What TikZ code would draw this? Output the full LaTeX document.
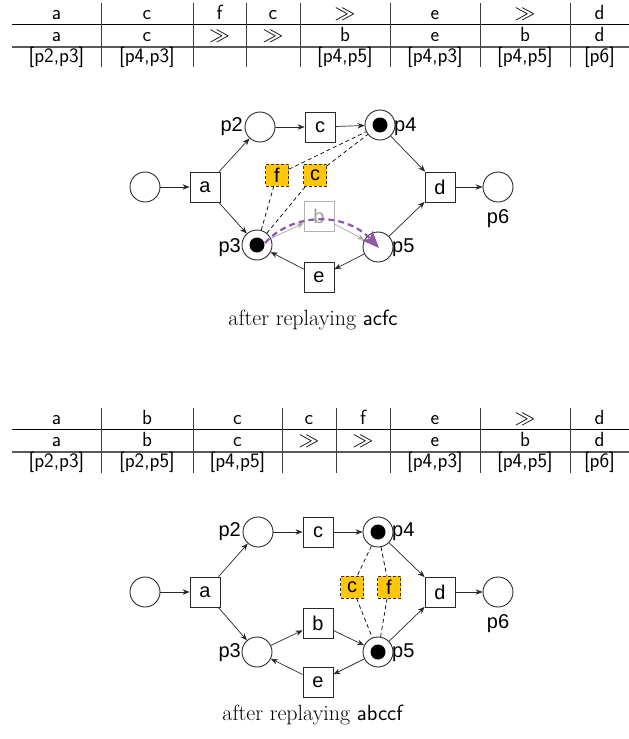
\documentclass[tikz,border=0pt]{standalone}
\usepackage{fontspec}
\newfontfamily\lblfont{Liberation Sans}
\usetikzlibrary{arrows.meta}
\definecolor{skipfill}{RGB}{255,198,10}
\definecolor{replaycol}{RGB}{146,88,168}
\definecolor{arcgray}{RGB}{40,40,40}

\tikzset{
  tabtext/.style={anchor=base, inner sep=0pt, font=\sffamily\fontsize{20.5}{22}\selectfont},
  tabline/.style={line width=0.8pt, draw=black},
  tabline2/.style={line width=1.3pt, draw=gray!70!black},
  colsep/.style={line width=0.8pt, draw=black!75},
  place/.style={circle, draw=arcgray, line width=0.9pt, minimum size=30pt, inner sep=0pt},
  trans/.style={rectangle, draw=arcgray, line width=0.8pt, minimum size=30pt, inner sep=0pt,
    font=\lblfont\fontsize{20}{20}\selectfont},
  ghost/.style={trans, draw=gray!60, text=gray!75},
  skipbox/.style={rectangle, draw=black!80, dashed, dash pattern=on 3pt off 2pt, line width=0.7pt,
    fill=skipfill, minimum width=23pt, minimum height=22pt, inner sep=0pt,
    font=\lblfont\fontsize{20}{20}\selectfont},
  plabel/.style={inner sep=0pt, font=\lblfont\fontsize{20}{20}\selectfont},
  arc/.style={-{Stealth[length=7pt,width=5.5pt]}, line width=0.7pt, draw=arcgray},
  ghostarc/.style={arc, draw=gray!70},
  linkline/.style={line width=0.7pt, dash pattern=on 4pt off 3pt, draw=black},
  replay/.style={line width=2.2pt, draw=replaycol, dash pattern=on 6pt off 4pt,
    -{Stealth[length=17pt,width=14pt,inset=4pt]}},
  caption/.style={inner sep=0pt, font=\fontsize{22}{26}\selectfont},
}

\begin{document}
\begin{tikzpicture}[x=1pt,y=-1pt]
\useasboundingbox (0,0) rectangle (629,739);

% ---------------- upper alignment table ----------------
\draw[tabline] (12,24) -- (629,24);
\draw[tabline2] (12,47) -- (629,47);
\foreach \s in {101,193,246,300,390,480,570}
  \draw[colsep] (\s,3) -- (\s,67);
\foreach \x/\r/\m/\k [count=\i] in {
    56.5/a/a/{[p2,p3]},
    147/c/c/{[p4,p3]},
    219.5/f/{$\gg$}/{},
    273/c/{$\gg$}/{},
    345/{$\gg$}/b/{[p4,p5]},
    435/e/e/{[p4,p3]},
    525/{$\gg$}/b/{[p4,p5]},
    599.5/d/d/{[p6]}}{
  \node[tabtext] (ua\i) at (\x,19.5) {\r};
  \node[tabtext] (ub\i) at (\x,41.5) {\m};
  \node[tabtext] (uc\i) at (\x,62) {\k};
}

% ---------------- upper net ----------------
\node[place] (s1)  at (145,187) {};
\node[trans] (a1)  at (205,187) {a};
\node[place] (p21) at (260,127) {};
\node[trans] (c1)  at (320,127) {c};
\node[place] (p41) at (380,125) {};
\node[trans] (d1)  at (440,187) {d};
\node[place] (p61) at (498,187) {};
\node[place] (p31) at (257,245) {};
\node[place] (p51) at (378,247) {};
\node[trans] (e1)  at (319,277) {e};
\node[ghost] (b1)  at (319,216) {b};
\node[skipbox] (f1s) at (277,175) {f};
\node[skipbox] (c1s) at (315,175) {c};

\fill[black] (p41.center) circle (7.5pt);
\fill[black] (p31.center) circle (7.5pt);

\node[plabel, anchor=east] (lp21) at (243,127) {p2};
\node[plabel, anchor=west] (lp41) at (394,127) {p4};
\node[plabel, anchor=east] (lp31) at (241,248) {p3};
\node[plabel, anchor=west] (lp51) at (392,248) {p5};
\node[plabel] (lp61) at (498,219) {p6};

\draw[arc] (s1) -- (a1);
\draw[arc] (a1) -- (p21);
\draw[arc] (a1) -- (p31);
\draw[arc] (p21) -- (c1);
\draw[arc] (c1) -- (p41);
\draw[arc] (p41) -- (d1);
\draw[arc] (d1) -- (p61);
\draw[arc] (p51) -- (d1);
\draw[arc] (p51) -- (e1);
\draw[arc] (e1) -- (p31);
\draw[ghostarc] (p31) -- (b1);
\draw[ghostarc] (b1) -- (p51);

\draw[linkline] (p31) -- (f1s) -- (p41);
\draw[linkline] (p31) -- (c1s) -- (p41);

\coordinate (rs) at (265,243);
\coordinate (re) at (379,248);
\draw[replay] (rs) .. controls (292,213) and (344,211) .. (re);

\node[caption] (cap1) at (313,320) {after replaying \textsf{acfc}};

% ---------------- lower alignment table ----------------
\draw[tabline] (12,429) -- (629,429);
\draw[tabline2] (12,452) -- (629,452);
\foreach \s in {101,193,282,336,390,480,570}
  \draw[colsep] (\s,408) -- (\s,473);
\foreach \x/\r/\m/\k [count=\i] in {
    56.5/a/a/{[p2,p3]},
    147/b/b/{[p2,p5]},
    237.5/c/c/{[p4,p5]},
    309/c/{$\gg$}/{},
    363/f/{$\gg$}/{},
    435/e/e/{[p4,p3]},
    525/{$\gg$}/b/{[p4,p5]},
    599.5/d/d/{[p6]}}{
  \node[tabtext] (la\i) at (\x,424.5) {\r};
  \node[tabtext] (lb\i) at (\x,446.5) {\m};
  \node[tabtext] (lc\i) at (\x,467) {\k};
}

% ---------------- lower net ----------------
\node[place] (s2)  at (145,592) {};
\node[trans] (a2)  at (205,592) {a};
\node[place] (p22) at (258,532) {};
\node[trans] (c2)  at (318,532) {c};
\node[place] (p42) at (378,532) {};
\node[trans] (d2)  at (440,592) {d};
\node[place] (p62) at (498,592) {};
\node[place] (p32) at (257,652) {};
\node[place] (p52) at (378,652) {};
\node[trans] (b2)  at (318,623) {b};
\node[trans] (e2)  at (318,682) {e};
\node[skipbox] (c2s) at (352,587) {c};
\node[skipbox] (f2s) at (389,587) {f};

\fill[black] (p42.center) circle (7.5pt);
\fill[black] (p52.center) circle (7.5pt);

\node[plabel, anchor=east] (lp22) at (241,532) {p2};
\node[plabel, anchor=west] (lp42) at (392,532) {p4};
\node[plabel, anchor=east] (lp32) at (241,653) {p3};
\node[plabel, anchor=west] (lp52) at (392,653) {p5};
\node[plabel] (lp62) at (498,624) {p6};

\draw[arc] (s2) -- (a2);
\draw[arc] (a2) -- (p22);
\draw[arc] (a2) -- (p32);
\draw[arc] (p22) -- (c2);
\draw[arc] (c2) -- (p42);
\draw[arc] (p42) -- (d2);
\draw[arc] (d2) -- (p62);
\draw[arc] (p32) -- (b2);
\draw[arc] (b2) -- (p52);
\draw[arc] (p52) -- (d2);
\draw[arc] (p52) -- (e2);
\draw[arc] (e2) -- (p32);

\draw[linkline] (p42) -- (c2s) -- (p52);
\draw[linkline] (p42) -- (f2s) -- (p52);

\node[caption] (cap2) at (313,715) {after replaying \textsf{abccf}};
\end{tikzpicture}
\end{document}
